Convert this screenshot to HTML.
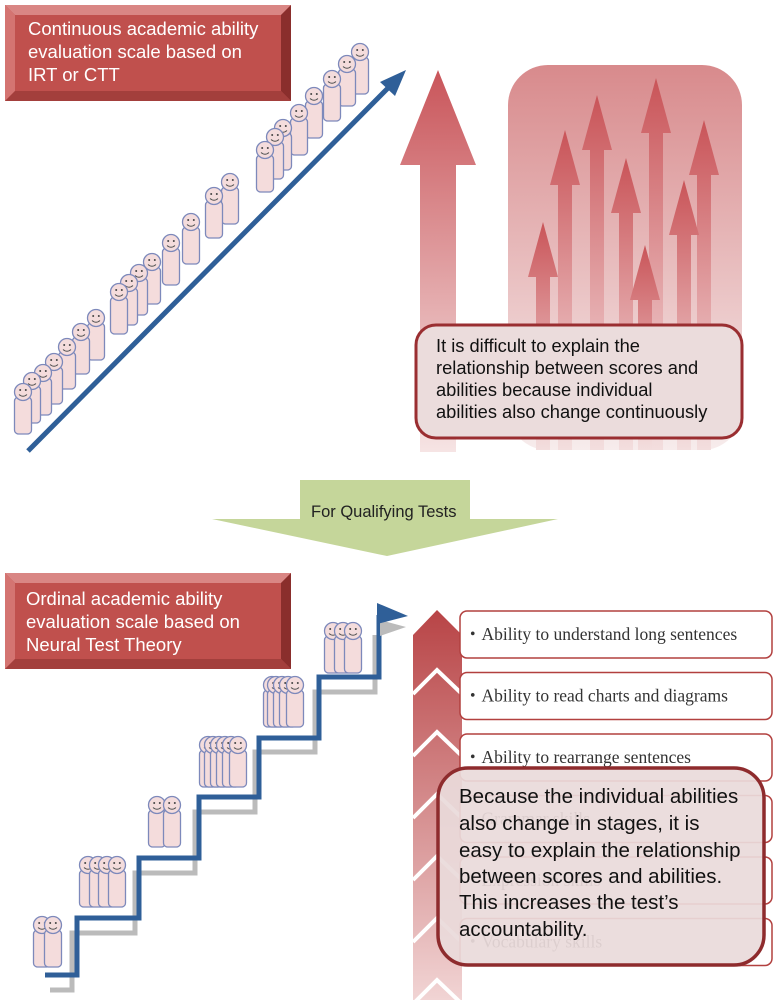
<!DOCTYPE html>
<html><head><meta charset="utf-8"><style>
html,body{margin:0;padding:0;background:#fff}
svg{display:block}
text{font-family:"Liberation Sans",sans-serif}
.s{font-family:"Liberation Serif",serif}
</style></head><body>
<svg id="g" width="780" height="1000" viewBox="0 0 780 1000" xmlns="http://www.w3.org/2000/svg">
<defs>
<linearGradient id="bigA" x1="0" y1="0" x2="0" y2="1"><stop offset="0" stop-color="#c9555a"/><stop offset="1" stop-color="#f6e4e4"/></linearGradient>
<linearGradient id="panel" x1="0" y1="0" x2="0" y2="1"><stop offset="0" stop-color="#d88a8c"/><stop offset="1" stop-color="#f7ecec"/></linearGradient>
<linearGradient id="smA" x1="0" y1="0" x2="0" y2="1"><stop offset="0" stop-color="#c95458"/><stop offset="0.7" stop-color="#e9b8ba"/><stop offset="1" stop-color="#f3dede"/></linearGradient>
<linearGradient id="chev" x1="0" y1="0" x2="0" y2="1"><stop offset="0" stop-color="#b84446"/><stop offset="1" stop-color="#f1d4d4"/></linearGradient>
</defs>

<rect x="5" y="5" width="286" height="96" fill="#c0504d"/>
<polygon points="5,5 291,5 281,15 15,15" fill="#d98684"/>
<polygon points="5,5 15,15 15,91 5,101" fill="#d47471"/>
<polygon points="291,5 291,101 281,91 281,15" fill="#8a2e2c"/>
<polygon points="5,101 291,101 281,91 15,91" fill="#a33f3c"/>
<text fill="#fff" font-size="18.5"><tspan x="28" y="35">Continuous academic ability</tspan><tspan x="28" y="58">evaluation scale based on</tspan><tspan x="28" y="81">IRT or CTT</tspan></text>

<rect x="508" y="65" width="234" height="385" rx="40" fill="url(#panel)"/>
<g id="smalls"></g>
<polygon points="438,70 476,165 456,165 456,452 420,452 420,165 400,165" fill="url(#bigA)"/>

<rect x="416" y="325" width="326" height="113" rx="20" fill="#ebdcdc" stroke="#9a2e31" stroke-width="3"/>
<text font-size="18.3" fill="#111"><tspan x="436" y="352">It is difficult to explain the</tspan><tspan x="436" y="374">relationship between scores and</tspan><tspan x="436" y="396">abilities because individual</tspan><tspan x="436" y="418">abilities also change continuously</tspan></text>

<line x1="28" y1="451" x2="390" y2="86" stroke="#2f5f98" stroke-width="5"/>
<polygon points="406,70 380,82 395,96" fill="#2f5f98"/>

<g id="ppl"></g>

<polygon points="300,480 470,480 470,519 558,519 387,556 212,519 300,519" fill="#c5d69a"/>
<text x="311" y="517" font-size="16.5" fill="#222">For Qualifying Tests</text>

<rect x="5" y="573" width="286" height="96" fill="#c0504d"/>
<polygon points="5,573 291,573 281,583 15,583" fill="#d98684"/>
<polygon points="5,573 15,583 15,659 5,669" fill="#d47471"/>
<polygon points="291,573 291,669 281,659 281,583" fill="#8a2e2c"/>
<polygon points="5,669 291,669 281,659 15,659" fill="#a33f3c"/>
<text fill="#fff" font-size="18.5"><tspan x="26" y="605">Ordinal academic ability</tspan><tspan x="26" y="628">evaluation scale based on</tspan><tspan x="26" y="651">Neural Test Theory</tspan></text>

<path d="M50,990 H72 V933 H135 V873 H195 V812 H255 V752 H315 V692 H375 V635" fill="none" stroke="#bbb" stroke-width="5"/>
<path d="M45,975 H77 V918 H139 V858 H199 V797 H259 V738 H319 V677 H379 V615" fill="none" stroke="#2f5f98" stroke-width="5"/>
<polygon points="380,620 406,627 380,636" fill="#bbb"/>
<polygon points="377,603 408,616 377,624" fill="#2f5f98"/>

<g id="chevs"></g>
<g id="items"></g>

<rect x="438" y="768" width="326" height="197" rx="30" fill="#e9dada" fill-opacity="0.93" stroke="#8e2b2d" stroke-width="3.5"/>
<text font-size="20.5" fill="#111"><tspan x="459" y="803">Because the individual abilities</tspan><tspan x="459" y="830">also change in stages, it is</tspan><tspan x="459" y="857">easy to explain the relationship</tspan><tspan x="459" y="883">between scores and abilities.</tspan><tspan x="459" y="909">This increases the test’s</tspan><tspan x="459" y="936">accountability.</tspan></text>
</svg>
<script>
(function(){
var NS="http://www.w3.org/2000/svg";
function el(p,t,a){var e=document.createElementNS(NS,t);for(var k in a)e.setAttribute(k,a[k]);p.appendChild(e);return e;}
var ppl=document.getElementById("ppl");
function person(x,y){
 el(ppl,"rect",{x:x-8.5,y:y+5,width:17,height:37,rx:4,fill:"#f4dcdc",stroke:"#7d89bb","stroke-width":1.3});
 el(ppl,"circle",{cx:x,cy:y,r:8.5,fill:"#f4dcdc",stroke:"#7d89bb","stroke-width":1.3});
 el(ppl,"circle",{cx:x-2.8,cy:y-2,r:1,fill:"#444"});
 el(ppl,"circle",{cx:x+2.8,cy:y-2,r:1,fill:"#444"});
 el(ppl,"path",{d:"M"+(x-4)+","+(y+2.5)+" Q"+x+","+(y+6)+" "+(x+4)+","+(y+2.5),fill:"none",stroke:"#555","stroke-width":0.9});
}
var tops=[[360,52],[347,64],[332,79],[314,96],[299,113],[283,128],[275,137],[265,150],[230,182],[214,196],[191,222],[171,243],[152,262],[139,273],[129,283],[119,292],[96,318],[81,332],[67,347],[54,362],[43,373],[32,381],[23,392]];
tops.forEach(function(p){person(p[0],p[1]);});
var groups=[[[353,631],[343,631],[333,631]],[[295,685],[288,685],[282,685],[276,685],[272,685]],[[238,745],[231,745],[225,745],[219,745],[213,745],[208,745]],[[172,805],[157,805]],[[117,865],[107,865],[98,865],[88,865]],[[53,925],[42,925]]];
groups.forEach(function(g){g.slice().reverse().forEach(function(p){person(p[0],p[1]);});});
var sm=document.getElementById("smalls");
[[543,222],[565,130],[597,95],[626,158],[656,78],[704,120],[684,180],[645,245]].forEach(function(a){
 var x=a[0],y=a[1];
 el(sm,"polygon",{points:[x,y,x+15,y+55,x+7,y+55,x+7,450,x-7,450,x-7,y+55,x-15,y+55].join(","),fill:"url(#smA)"});
});
var ch=document.getElementById("chevs");
el(ch,"polygon",{points:"413,635 437,610 462,635 462,1000 413,1000",fill:"url(#chev)"});
for(var i=0;i<6;i++){var y=670+i*62;
 el(ch,"polyline",{points:"413,"+(y+24)+" 437,"+y+" 462,"+(y+24),fill:"none",stroke:"#fff","stroke-width":4});}
var it=document.getElementById("items");
var labels=["・Ability to understand long sentences","・Ability to read charts and diagrams","・Ability to rearrange sentences","・Grammar skills","・Expression skills","・Vocabulary skills"];
for(var j=0;j<6;j++){var yy=611+j*61.5;
 el(it,"rect",{x:460,y:yy,width:312,height:47,rx:7,fill:"#fff",stroke:"#b2403f","stroke-width":1.5});
 var t=el(it,"text",{x:464,y:yy+29,"font-size":17.5,fill:"#333","class":"s"});t.textContent=labels[j];}
})();
</script>
</body></html>
